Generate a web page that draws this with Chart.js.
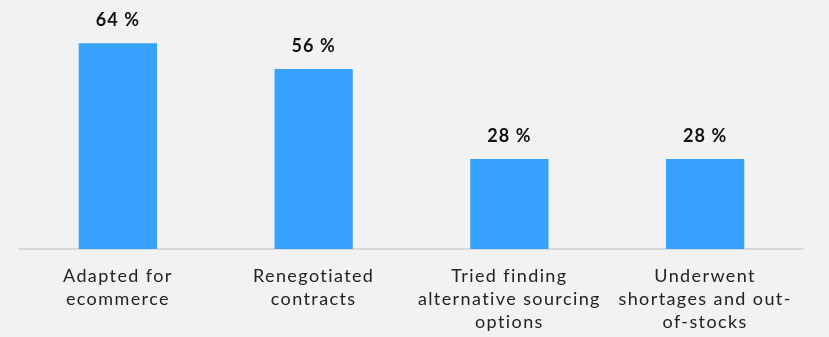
<!DOCTYPE html>
<html><head><meta charset="utf-8">
<script src="https://cdn.jsdelivr.net/npm/chart.js@4/dist/chart.umd.min.js"></script>
<style>html,body{margin:0;padding:0;background:#f2f2f2;}#wrap{width:829px;height:337px;}</style>
</head><body><div id="wrap"><canvas id="c"></canvas></div>
<script>
const categories = [["Adapted for","ecommerce"],["Renegotiated","contracts"],["Tried finding","alternative sourcing","options"],["Underwent","shortages and out-","of-stocks"]];
const values = [64, 56, 28, 28];
const valueLabels = ["64 %","56 %","28 %","28 %"];

const labelPlugin = {
  id:'vlabels',
  afterDatasetsDraw(chart){
    const ctx = chart.ctx;
    const meta = chart.getDatasetMeta(0);
    ctx.save();
    ctx.letterSpacing = '1px';
    ctx.font = 'bold 18px Lato, "Open Sans", sans-serif';
    ctx.fillStyle = '#111';
    ctx.textAlign = 'center';
    ctx.textBaseline = 'middle';
    meta.data.forEach((b,i)=>{ ctx.fillText(valueLabels[i], b.x, b.y - 23); });
    ctx.restore();
  }
};
const bgPlugin = {id:'bg', beforeDraw(chart){const c=chart.ctx;c.fillStyle='#f2f2f2';c.fillRect(0,0,chart.width,chart.height);c.letterSpacing='1.4px';}};

new Chart(document.getElementById('c'), {
  type:'bar',
  data:{labels:categories, datasets:[{data:values, backgroundColor:'#38a3ff', barPercentage:0.4, categoryPercentage:1.0}]},
  options:{
    responsive:true, maintainAspectRatio:false, animation:false,
    layout:{padding:{left:20,right:26,top:24,bottom:-13}},
    plugins:{legend:{display:false}, tooltip:{enabled:false}},
    scales:{
      y:{display:false, min:0, max:70},
      x:{grid:{display:false, drawTicks:false}, border:{display:true, color:'#d9d9d9', width:2},
         ticks:{padding:16, color:'#222', font:{family:'Lato, "Open Sans", sans-serif', size:18, lineHeight:'23px'}, maxRotation:0, autoSkip:false}}
    }
  },
  plugins:[bgPlugin, labelPlugin]
});
</script></body></html>
